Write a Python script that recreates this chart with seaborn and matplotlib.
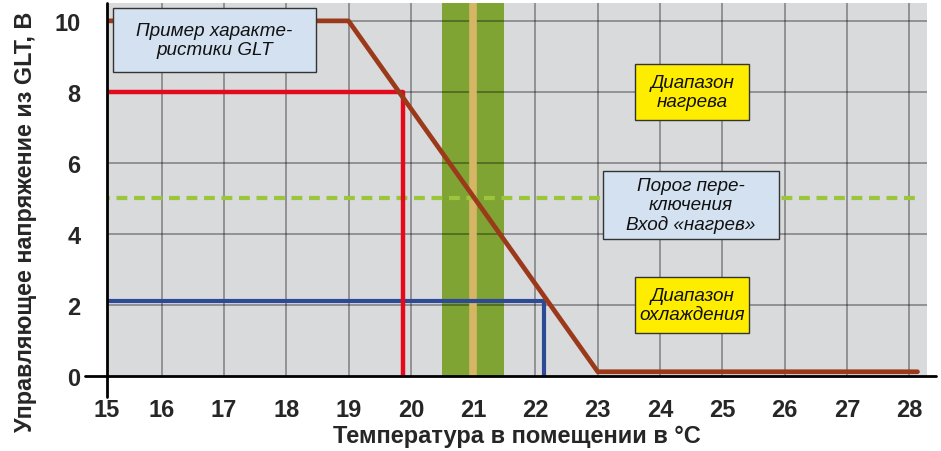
import matplotlib
matplotlib.use("Agg")
import matplotlib.pyplot as plt
import seaborn as sns
import pandas as pd
from matplotlib.patches import Rectangle
from matplotlib.lines import Line2D

# ---- data ----
x_ticks = [15, 16, 17, 18, 19, 20, 21, 22, 23, 24, 25, 26, 27, 28]
y_ticks = [0, 2, 4, 6, 8, 10]

glt_x = [15.0, 19.0, 23.0, 28.13]
glt_y = [10.0, 10.0, 0.12, 0.12]

heat_x = [15.0, 19.88, 19.88]
heat_y = [8.0, 8.0, 0.0]

cool_x = [15.0, 22.14, 22.14]
cool_y = [2.1, 2.1, 0.0]

threshold_y = 5.0
threshold_x = [15.0, 28.13]
comfort_band = [20.5, 21.5]
setpoint = 21.0

box_texts = ["Пример характе-\nристики GLT", "Диапазон\nнагрева",
             "Порог пере-\nключения\nВход «нагрев»", "Диапазон\nохлаждения"]

xlabel = "Температура в помещении в °C"
ylabel = "Управляющее напряжение из GLT, В"

# ---- style ----
sns.set_style("white")
plt.rcParams['font.family'] = ['Liberation Sans', 'DejaVu Sans']

fig = plt.figure(figsize=(9.41, 4.52), dpi=100)
ax = fig.add_axes([0.1134, 0.1659, 0.9856 - 0.1134, 0.825])
ax.set_facecolor("#d9dadc")

x_left, x_right = 15.12, 28.29
ax.set_xlim(x_left, x_right)
ax.set_ylim(0, 10.5)

# grid
for xv in x_ticks[1:]:
    ax.axvline(xv, color="black", alpha=0.33, lw=1.4, zorder=2)
for yv in y_ticks[1:]:
    ax.axhline(yv, color="black", alpha=0.33, lw=1.4, zorder=2)

# comfort band and setpoint
ax.axvspan(comfort_band[0], comfort_band[1], color="#7fa434", lw=0, zorder=1)
ax.axvline(setpoint, color="#d6b566", lw=5.5, zorder=3)

# threshold dashed line
df_thr = pd.DataFrame({"x": threshold_x, "y": [threshold_y] * 2})
sns.lineplot(data=df_thr, x="x", y="y", ax=ax, color="#9bc63b", lw=3,
             dashes=False, zorder=4).lines[-1].set_dashes((2.6, 1.6))

# heat, cool, GLT characteristic
for xs, ys, col, lw in [(cool_x, cool_y, "#2e4a97", 3.0),
                        (heat_x, heat_y, "#e30a1c", 3.2),
                        (glt_x, glt_y, "#9b3a1b", 3.4)]:
    d = pd.DataFrame({"x": xs, "y": ys})
    sns.lineplot(data=d, x="x", y="y", ax=ax, sort=False, estimator=None,
                 color=col, lw=lw, zorder=5)

# annotation boxes (data coords)
boxes = [
    (15.22, 8.56, 18.48, 10.37, "#d3e1f1"),
    (23.60, 7.21, 25.43, 8.79, "#ffed00"),
    (23.08, 3.86, 25.91, 5.77, "#d3e1f1"),
    (23.60, 1.21, 25.43, 2.79, "#ffed00"),
]
for (x0, y0, x1, y1, fc), txt in zip(boxes, box_texts):
    ax.add_patch(Rectangle((x0, y0), x1 - x0, y1 - y0, facecolor=fc,
                           edgecolor="#333333", lw=1.0, zorder=6))
    ax.text((x0 + x1) / 2, (y0 + y1) / 2, txt, ha="center", va="center",
            fontsize=13.6, style="italic", color="#111111", linespacing=1.15,
            zorder=7)

# ticks
ax.set_xticks([x_left] + x_ticks[1:])
ax.set_xticklabels([str(v) for v in x_ticks])
ax.set_yticks(y_ticks)
ax.set_yticklabels([str(v) for v in y_ticks])
ax.tick_params(axis="both", which="both", length=6, width=1.6, color="#8c8c8c",
               labelsize=17, direction="out")
ax.tick_params(axis="x", pad=10)
ax.tick_params(axis="y", pad=13)
for lab in ax.get_xticklabels() + ax.get_yticklabels():
    lab.set_fontweight("bold")

for s in ax.spines.values():
    s.set_visible(False)

# axis lines crossing at origin
ax.add_line(Line2D([-0.026, 1.01], [0, 0], transform=ax.transAxes, color="black",
                   lw=2, clip_on=False, zorder=8))
ax.add_line(Line2D([0, 0], [-0.055, 1.0], transform=ax.transAxes, color="black",
                   lw=2, clip_on=False, zorder=8))

ax.set_xlabel(xlabel, fontsize=17, fontweight="bold", labelpad=2)
ax.set_ylabel("")
fig.text(0.027, 0.509, ylabel, rotation=90, ha="center", va="center",
         fontsize=16.8, fontweight="bold")

fig.savefig("out.png", dpi=100)
